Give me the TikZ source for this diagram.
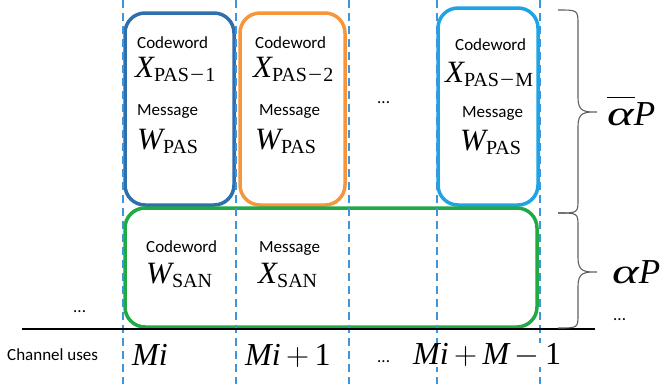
\RequirePackage{fix-cm}
\documentclass[tikz,border=0pt]{standalone}
\usepackage{graphicx}
\usepackage{fontspec}
\setmainfont{Liberation Serif}
\newfontfamily\calibri{Carlito}

\definecolor{dashblue}{HTML}{3D95DB}
\definecolor{boxdark}{HTML}{2E6FAE}
\definecolor{boxorange}{HTML}{F7953A}
\definecolor{boxlight}{HTML}{1EA3E6}
\definecolor{boxgreen}{HTML}{1FAA45}
\definecolor{bracegray}{HTML}{606060}

\newcommand\mvar[2]{{\itshape #1}\raisebox{-4pt}{\fontsize{20}{20}\selectfont #2}}
\newcommand\mminus{\kern0.06em\scalebox{1.25}[1]{−}\kern0.06em}
\newcommand\bminus{\kern0.17em$-$\kern0.17em}
\newcommand\bplus{\kern0.17em$+$\kern0.17em}
\newcommand\wal{\scalebox{1.45}[1]{α}}
\newcommand\abar{\makebox[0pt][l]{\raisebox{0.76em}{\rule{0.8em}{1.3pt}}}\wal}

\begin{document}
\begin{tikzpicture}[x=1pt,y=-1pt,
  sep/.style={dashblue, line width=2.4pt, dash pattern=on 8pt off 5pt},
  slot/.style={draw, rounded corners=20pt, line width=3.5pt, inner sep=0pt},
  lbl/.style={font=\calibri\fontsize{17}{17}\selectfont, inner sep=0pt, anchor=base west},
  sym/.style={font=\fontsize{31}{31}\selectfont, inner sep=0pt, anchor=base west},
  row/.style={font=\fontsize{32}{32}\selectfont\itshape, inner sep=0pt, anchor=base west},
  pw/.style={font=\fontsize{35}{35}\selectfont\itshape, inner sep=0pt, anchor=base west},
  grp/.style={draw=bracegray, line width=1.1pt},
  axis/.style={line width=2pt}
]
\useasboundingbox (0,0) rectangle (665,384);

% boxes
\node[slot, draw=boxdark, minimum width=109pt, minimum height=192pt] (pas1) at (179.5,109) {};
\node[slot, draw=boxorange, minimum width=105pt, minimum height=192pt] (pas2) at (292.5,109) {};
\node[slot, draw=boxlight, minimum width=100pt, minimum height=197pt] (pasm) at (488,106.5) {};
\node[slot, draw=boxgreen, minimum width=412pt, minimum height=119pt] (san) at (331,267.5) {};

% dashed separators
\foreach \i/\x in {1/123,2/236,3/349,4/437,5/540}{
  \coordinate (d\i t) at (\x,0);
  \coordinate (d\i b) at (\x,384);
  \draw[sep] (d\i t) -- (d\i b);
}

% axis
\coordinate (axl) at (22,329);
\coordinate (axr) at (595,329);
\draw[axis] (axl) -- (axr);

% braces
\coordinate (b1t) at (558,10);
\coordinate (b1b) at (558,213);
\coordinate (b2b) at (558,328);
\draw[grp] (b1t) .. controls (578,10) .. (578,25) -- (578,98)
  .. controls (578,112) and (585,112) .. (597,112)
  .. controls (585,112) and (578,112) .. (578,126) -- (578,199)
  .. controls (578,213) .. (b1b);
\draw[grp] (b1b) .. controls (578,213) .. (578,227) -- (578,258)
  .. controls (578,272) and (585,272) .. (597,272)
  .. controls (585,272) and (578,272) .. (578,286) -- (578,314)
  .. controls (578,328) .. (b2b);

% box 1
\node[lbl] (cw1) at (137,48) {Codeword};
\node[sym] (x1) at (135,77) {\mvar{X}{PAS\mminus 1}};
\node[lbl] (ms1) at (137,115) {Message};
\node[sym] (w1) at (137,149) {\mvar{W}{PAS}};
% box 2
\node[lbl] (cw2) at (255,48) {Codeword};
\node[sym] (x2) at (253,77) {\mvar{X}{PAS\mminus 2}};
\node[lbl] (ms2) at (259,115) {Message};
\node[sym] (w2) at (255,149) {\mvar{W}{PAS}};
% box M
\node[lbl] (cwm) at (455,50) {Codeword};
\node[sym] (xm) at (445,82) {\mvar{X}{PAS\mminus M}};
\node[lbl] (msm) at (462,117) {Message};
\node[sym] (wm) at (460,150) {\mvar{W}{PAS}};
% green box
\node[lbl] (cws) at (146,252) {Codeword};
\node[sym] (ws) at (146,283) {\mvar{W}{SAN}};
\node[lbl] (mss) at (259,252) {Message};
\node[sym] (xs) at (258,283) {\mvar{X}{SAN}};

% dots
\node[lbl] (dtop) at (377,103) {...};
\node[lbl] (dleft) at (73,312) {...};
\node[lbl] (dright) at (613,320) {...};
\node[lbl] (dbot) at (377,362) {...};

% bottom row
\node[lbl] (cu) at (7,360) {Channel uses};
\node[row] (r1) at (132,365) {Mi};
\node[row] (r2) at (245,365) {Mi\upshape\bplus 1};
\node[row, fill=white] (r3) at (413,364) {Mi\upshape\bplus\itshape M\upshape\bminus 1};

% power labels
\node[pw] (abar) at (607,125) {\abar P};
\node[pw] (a) at (612,283) {\wal P};
\end{tikzpicture}
\end{document}
